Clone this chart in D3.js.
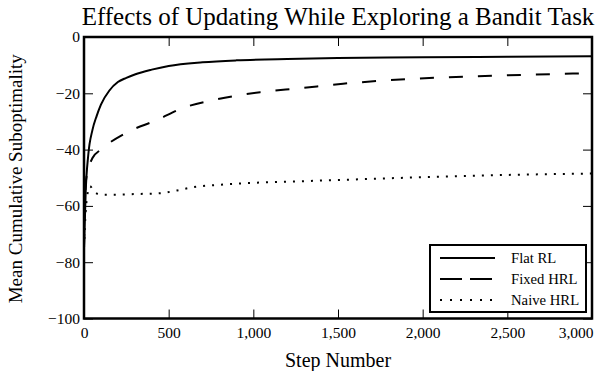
<!DOCTYPE html>
<html>
<head>
<meta charset="utf-8">
<script src="https://cdn.jsdelivr.net/npm/d3@7"></script>
<style>
  body { margin: 0; background: #fff; }
  svg { display: block; }
  svg text { font-family: "Liberation Serif", "DejaVu Serif", serif !important; fill: #000; }
</style>
</head>
<body>
<div class="chart-area"></div>
<script>
// steps and values
const flatSteps = [0, 10, 25, 50, 75, 100, 150, 200, 250, 300, 400, 500, 700, 900, 1200, 1500, 2000, 2500, 3000];
const flatValues = [-75, -55, -42, -33, -28, -24, -19, -16, -14.5, -13.3, -11.6, -10.3, -9, -8.3, -7.8, -7.5, -7.2, -7, -6.8];

const fixedSteps = [0, 10, 25, 50, 100, 250, 430, 580, 780, 1040, 1275, 1530, 1900, 2240, 2630, 3000];
const fixedValues = [-75, -52, -47, -43, -40, -34, -29.5, -25.3, -22.2, -19.6, -18.2, -16.6, -15, -14.1, -13.4, -12.8];

const naiveSteps = [0, 10, 20, 35, 60, 100, 200, 300, 450, 550, 650, 800, 1000, 1300, 1600, 2000, 2500, 3000];
const naiveValues = [-75, -62, -56, -53, -55, -56, -56, -55.8, -55.5, -54.5, -53.3, -52.5, -51.8, -51.2, -50.6, -49.8, -49, -48.5];

const seriesNames = ["Flat RL", "Fixed HRL", "Naive HRL"];
const xTicks = [0, 500, 1000, 1500, 2000, 2500, 3000];
const yTicks = [0, -20, -40, -60, -80, -100];

const width = 597, height = 371;
const margin = { top: 37, right: 5, bottom: 52.5, left: 84 };

const svg = d3.select('.chart-area').append('svg').attr('width', width).attr('height', height);

const x = d3.scaleLinear().domain([0, 3000]).range([margin.left, width - margin.right]);
const y = d3.scaleLinear().domain([-100, 0]).range([height - margin.bottom, margin.top]);

const series = [
    { name: seriesNames[0], steps: flatSteps, values: flatValues, dash: null, legDash: null },
    { name: seriesNames[1], steps: fixedSteps, values: fixedValues, dash: "14,15", legDash: "22,8" },
    { name: seriesNames[2], steps: naiveSteps, values: naiveValues, dash: "2,7", legDash: "2,8" }
];

svg.append("clipPath").attr("id", "clip")
    .append("rect")
    .attr("x", margin.left).attr("y", margin.top)
    .attr("width", width - margin.left - margin.right)
    .attr("height", height - margin.top - margin.bottom);

const line = d3.line().curve(d3.curveMonotoneX);

svg.append("g").attr("clip-path", "url(#clip)")
    .selectAll("path")
    .data(series)
    .join("path")
    .attr("fill", "none")
    .attr("stroke", "#000")
    .attr("stroke-width", 2)
    .attr("stroke-dasharray", d => d.dash)
    .attr("d", d => line(d.steps.map((s, i) => [x(s), y(d.values[i])])));

// axes, ticks pointing inward
const tickLen = 9;
const fmtX = d3.format(",");

const xAxis = g => g
    .attr("transform", `translate(0,${height - margin.bottom})`)
    .call(d3.axisBottom(x).tickValues(xTicks).tickFormat(fmtX).tickSizeInner(-tickLen).tickSizeOuter(0).tickPadding(8.5))
    .call(g => g.select(".domain").remove());

const xTop = g => g
    .attr("transform", `translate(0,${margin.top})`)
    .call(d3.axisTop(x).tickValues(xTicks).tickFormat("").tickSizeInner(-tickLen).tickSizeOuter(0))
    .call(g => g.select(".domain").remove());

const yAxis = g => g
    .attr("transform", `translate(${margin.left},0)`)
    .call(d3.axisLeft(y).tickValues(yTicks).tickSizeInner(-tickLen).tickSizeOuter(0).tickPadding(4))
    .call(g => g.select(".domain").remove());

const yRight = g => g
    .attr("transform", `translate(${width - margin.right},0)`)
    .call(d3.axisRight(y).tickValues(yTicks).tickFormat("").tickSizeInner(-tickLen).tickSizeOuter(0))
    .call(g => g.select(".domain").remove());

svg.append("g").call(xAxis);
svg.append("g").call(xTop);
svg.append("g").call(yAxis);
svg.append("g").call(yRight);

svg.selectAll(".tick line").attr("stroke", "#000").attr("stroke-width", 1);
svg.selectAll(".tick text").style("font-size", "15.5px");

// keep the last x label inside the figure
svg.selectAll(".tick text").filter(d => d === 3000).attr("text-anchor", "end").attr("dx", 1);

// frame
svg.append("rect")
    .attr("x", margin.left).attr("y", margin.top)
    .attr("width", width - margin.left - margin.right)
    .attr("height", height - margin.top - margin.bottom)
    .attr("fill", "none").attr("stroke", "#000").attr("stroke-width", 2.5);

// title and labels
svg.append("text")
    .attr("x", (margin.left + width - margin.right) / 2).attr("y", 25)
    .attr("text-anchor", "middle").style("font-size", "25px")
    .text("Effects of Updating While Exploring a Bandit Task");

svg.append("text")
    .attr("x", (margin.left + width - margin.right) / 2).attr("y", 367)
    .attr("text-anchor", "middle").style("font-size", "20px")
    .text("Step Number");

svg.append("text")
    .attr("transform", `translate(22,${(margin.top + height - margin.bottom) / 2 + 1}) rotate(-90)`)
    .attr("text-anchor", "middle").style("font-size", "19px")
    .text("Mean Cumulative Suboptimality");

// legend
const leg = svg.append("g").attr("transform", "translate(430,245)");
leg.append("rect")
    .attr("width", 156).attr("height", 67)
    .attr("fill", "#fff").attr("stroke", "#000").attr("stroke-width", 2);

const item = leg.selectAll("g.item").data(series).join("g")
    .attr("class", "item")
    .attr("transform", (d, i) => `translate(0,${13 + i * 21})`);

item.append("line")
    .attr("x1", 10).attr("x2", 65)
    .attr("stroke", "#000").attr("stroke-width", 2)
    .attr("stroke-dasharray", d => d.legDash);

item.append("text")
    .attr("x", 81).attr("y", 5)
    .style("font-size", "14.7px")
    .text(d => d.name);
</script>
</body>
</html>
